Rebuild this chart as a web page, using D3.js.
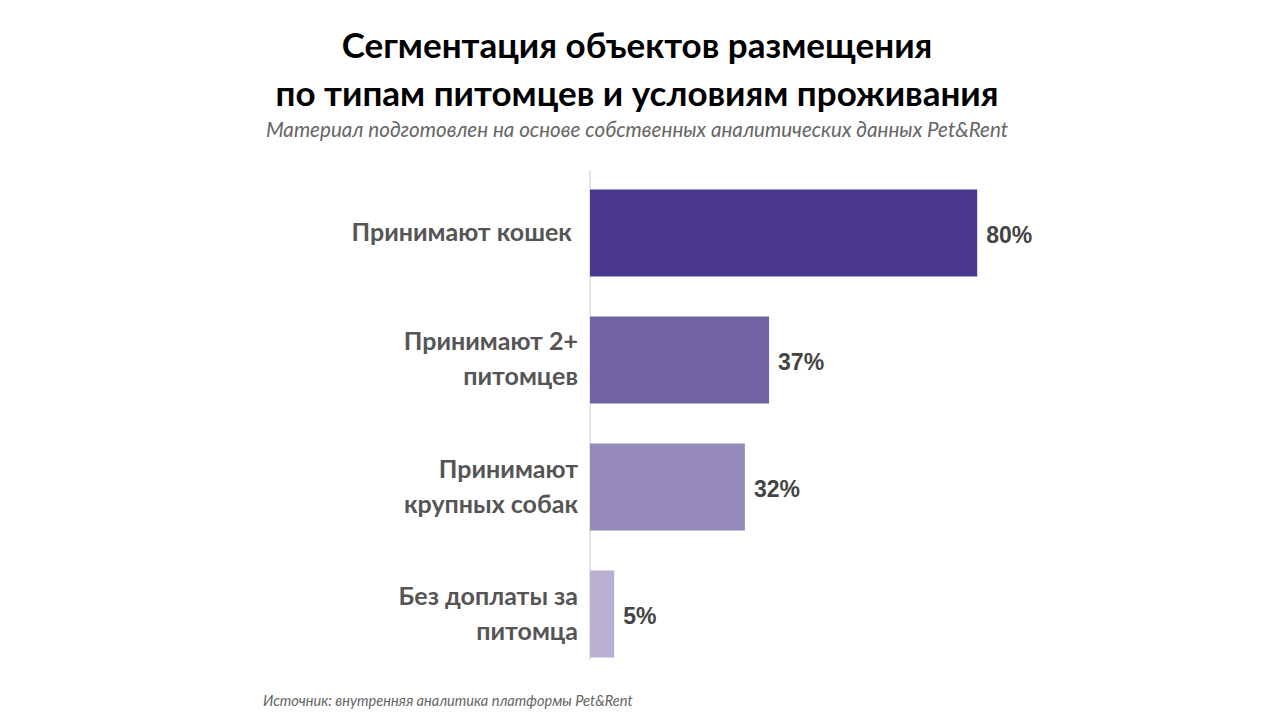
<!DOCTYPE html>
<html><head><meta charset="utf-8">
<script src="https://cdn.jsdelivr.net/npm/d3@7"></script>
<style>body{margin:0;background:#fff}text{white-space:pre}</style>
</head><body>
<svg id="c" width="1280" height="720"></svg>
<script>
const categories = [["Принимают кошек "], ["Принимают 2+", "питомцев"], ["Принимают", "крупных собак"], ["Без доплаты за", "питомца"]];
const values = [80, 37, 32, 5];
const colors = ["#4B398F", "#7262A6", "#9589BA", "#B8AFD3"];
const titleLines = ["Сегментация объектов размещения", "по типам питомцев и условиям проживания"];
const subtitle = "Материал подготовлен на основе собственных аналитических данных Pet&Rent";
const source = "Источник: внутренняя аналитика платформы Pet&Rent";

const svg = d3.select("#c");
const x = d3.scaleLinear().domain([0, 100]).range([590, 1074]);
const y = d3.scaleBand().domain(d3.range(categories.length)).range([170, 677]).paddingInner(0.315).paddingOuter(0.1535);

svg.selectAll(".t").data(titleLines).join("text")
  .attr("x", 637).attr("y", (d, i) => 58 + i * 48).attr("text-anchor", "middle")
  .style("font-family", "Lato").style("font-weight", "bold").style("font-size", "35px").attr("fill", "#000").text(d => d);
svg.append("text").attr("x", 637).attr("y", 137).attr("text-anchor", "middle")
  .style("font-family", "Lato").style("font-style", "italic").style("font-size", "20.6px").attr("fill", "#666").text(subtitle);

svg.append("line").attr("x1", 590).attr("x2", 590).attr("y1", 170).attr("y2", 660).attr("stroke", "#ddd").attr("stroke-width", 1.5);

svg.selectAll(".bar").data(values).join("rect")
  .attr("x", x(0)).attr("y", (d, i) => y(i)).attr("width", d => x(d) - x(0)).attr("height", y.bandwidth())
  .attr("fill", (d, i) => colors[i]);

svg.selectAll(".val").data(values).join("text")
  .attr("x", d => x(d) + 9).attr("y", (d, i) => y(i) + y.bandwidth() / 2 + 10)
  .style("font-family", "Liberation Sans, Arial").style("font-weight", "bold").style("font-size", "23px").attr("fill", "#444")
  .text(d => d + "%");

const lab = svg.selectAll(".lab").data(categories).join("text")
  .attr("text-anchor", "end")
  .style("font-family", "Lato").style("font-weight", "bold").style("font-size", "25px").attr("fill", "#555");
lab.each(function(lines, i) {
  const cy = y(i) + y.bandwidth() / 2;
  const lh = 35;
  d3.select(this).selectAll("tspan").data(lines).join("tspan")
    .attr("x", 578).attr("y", (d, j) => cy + 8 + (j - (lines.length - 1) / 2) * lh).text(d => d);
});

svg.append("text").attr("x", 263).attr("y", 706)
  .style("font-family", "Lato").style("font-style", "italic").style("font-size", "14.6px").attr("fill", "#666").text(source);
</script>
</body></html>
